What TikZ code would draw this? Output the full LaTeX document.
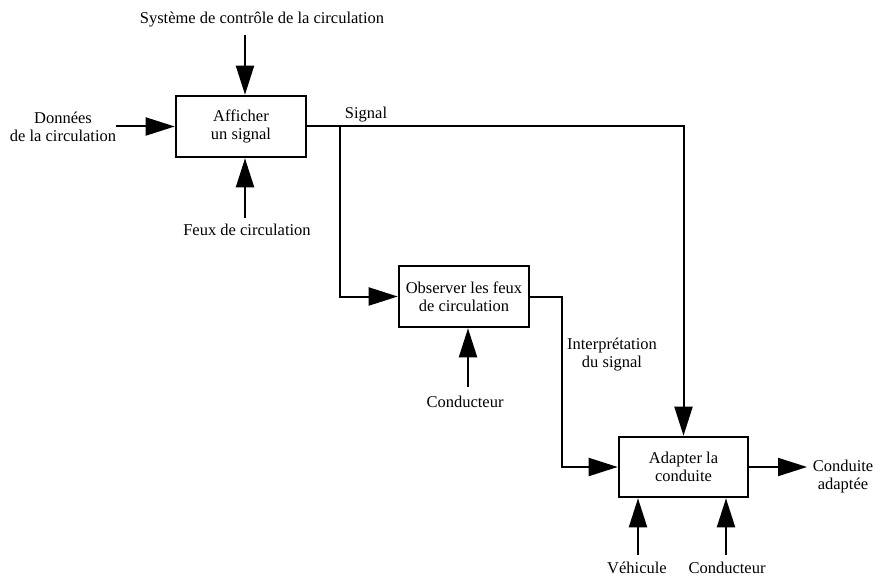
\documentclass[tikz,border=0pt]{standalone}
\usepackage{fontspec}
\setmainfont{Liberation Serif}
\usetikzlibrary{arrows.meta}
\begin{document}
\begin{tikzpicture}[x=1pt,y=-1pt,
  font=\fontsize{16.5}{18}\selectfont,
  box/.style={draw, line width=2.6pt, minimum width=130pt, minimum height=61pt, inner sep=0pt, align=center},
  arr/.style={line width=2pt, -{Triangle[length=29pt,width=18pt]}},
  lbl/.style={inner sep=0pt, align=center}]
\useasboundingbox (0,0) rectangle (875,577);
% boxes
\node[box] (A) at (241,126.5) {Afficher\\un signal};
\node[box] (B) at (464,296.5) {Observer les feux\\de circulation};
\node[box, minimum width=129pt, minimum height=60pt] (C) at (683.5,467) {Adapter la\\conduite};
% labels
\node[lbl] (sys) at (262,20) {Système de contrôle de la circulation};
\node[lbl] (don) at (63,127) {Données\\de la circulation};
\node[lbl] (feux) at (247,230) {Feux de circulation};
\node[lbl] (sig) at (366,115) {Signal};
\node[lbl] (cond1) at (465,402) {Conducteur};
\node[lbl] (interp) at (612,355) {Interprétation\\du signal};
\node[lbl] (condad) at (843,477) {Conduite\\adaptée};
\node[lbl] (veh) at (637,568) {Véhicule};
\node[lbl] (cond2) at (727,568) {Conducteur};
% anchor coordinates
\coordinate (s1) at (245,35);
\coordinate (d1) at (116,126.5);
\coordinate (f1) at (245,218);
\coordinate (j1) at (340,126.5);
\coordinate (k1) at (562,296.5);
\coordinate (c1) at (468,387);
\coordinate (o1) at (807,467);
\coordinate (v1) at (638,555);
\coordinate (w1) at (726,555);
% connectors
\draw[arr] (s1) -- (s1 |- A.north);
\draw[arr] (d1) -- (A.west);
\draw[arr] (f1) -- (f1 |- A.south);
\draw[arr] (A.east) -- (A.east -| C.north) -- (C.north);
\draw[arr] (j1) -- (j1 |- B.west) -- (B.west);
\draw[arr] (B.east) -- (k1) -- (k1 |- C.west) -- (C.west);
\draw[arr] (c1) -- (c1 |- B.south);
\draw[arr] (C.east) -- (o1);
\draw[arr] (v1) -- (v1 |- C.south);
\draw[arr] (w1) -- (w1 |- C.south);
\end{tikzpicture}
\end{document}
